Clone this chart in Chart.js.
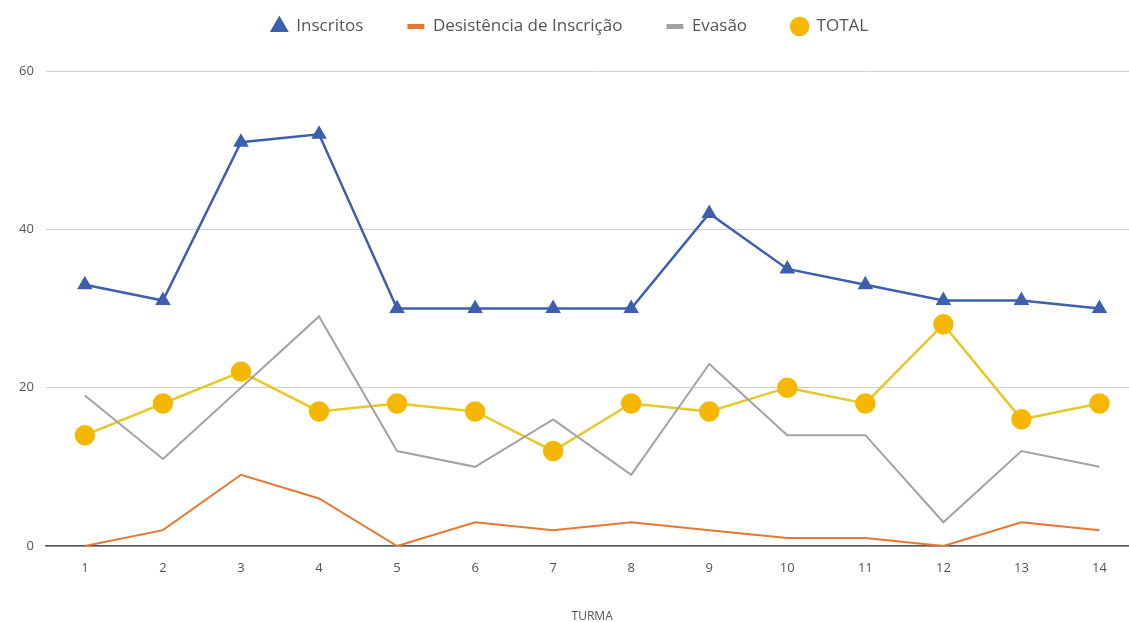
<!DOCTYPE html>
<html>
<head>
<meta charset="utf-8">
<script src="https://cdn.jsdelivr.net/npm/chart.js@4"></script>
<style>
  html, body { margin: 0; padding: 0; background: #fff; overflow: hidden; }
  #wrap { width: 1129px; height: 622px; overflow: hidden; }
</style>
</head>
<body>
<div id="wrap"><canvas id="turmaChart" width="1150" height="622"></canvas></div>
<script>
// --- DADOS ---
const turmas = ['1', '2', '3', '4', '5', '6', '7', '8', '9', '10', '11', '12', '13', '14'];
const inscritos = [33, 31, 51, 52, 30, 30, 30, 30, 42, 35, 33, 31, 31, 30];
const desistencia = [0, 2, 9, 6, 0, 3, 2, 3, 2, 1, 1, 0, 3, 2];
const evasao = [19, 11, 20, 29, 12, 10, 16, 9, 23, 14, 14, 3, 12, 10];
const total = [14, 18, 22, 17, 18, 17, 12, 18, 17, 20, 18, 28, 16, 18];
const yTicks = [0, 20, 40, 60];

// jarak ekstra di bawah legenda
const legendMargin = {
    id: 'legendMargin',
    beforeInit(chart) {
        const fitAsli = chart.legend.fit;
        chart.legend.fit = function () {
            fitAsli.bind(chart.legend)();
            this.height += 26;
        };
    }
};

// --- GRAFICO ---
const ctx = document.getElementById('turmaChart').getContext('2d');
const chart = new Chart(ctx, {
    type: 'line',
    data: {
        labels: turmas,
        datasets: [{
            label: 'Inscritos',
            data: inscritos,
            borderColor: '#3d5fae',
            backgroundColor: '#3d5fae',
            borderWidth: 2.5,
            pointStyle: 'triangle',
            pointRadius: 6.5,
            tension: 0
        }, {
            label: 'Desistência de Inscrição',
            data: desistencia,
            borderColor: '#e8782f',
            backgroundColor: '#e8782f',
            borderWidth: 2,
            pointRadius: 0,
            pointStyle: 'line',
            tension: 0
        }, {
            label: 'Evasão',
            data: evasao,
            borderColor: '#a3a3a3',
            backgroundColor: '#a3a3a3',
            borderWidth: 2,
            pointRadius: 0,
            pointStyle: 'line',
            tension: 0
        }, {
            label: 'TOTAL',
            data: total,
            borderColor: '#e6c82a',
            backgroundColor: '#f5b700',
            pointBorderColor: '#f5b700',
            borderWidth: 2.5,
            pointStyle: 'circle',
            pointRadius: 9,
            tension: 0
        }]
    },
    options: {
        responsive: false,
        animation: false,
        layout: { padding: { top: -26, left: -11, right: 0, bottom: -6 } },
        plugins: {
            legend: {
                position: 'top',
                labels: {
                    usePointStyle: true,
                    boxWidth: 17,
                    boxHeight: 12,
                    padding: 44,
                    color: '#555',
                    font: { family: 'Open Sans', size: 17 },
                    generateLabels: (c) => {
                        // garis legenda lebih tebal, seperti referensi
                        const items = Chart.defaults.plugins.legend.labels.generateLabels(c);
                        items.forEach(it => {
                            if (it.pointStyle === 'line') it.lineWidth = 5;
                        });
                        return items;
                    }
                }
            },
            tooltip: { enabled: false }
        },
        scales: {
            x: {
                offset: true,
                grid: { display: false, drawTicks: false },
                border: { display: true, color: '#555', width: 1.5 },
                ticks: { color: '#555', padding: 14, font: { family: 'Open Sans', size: 13 } },
                title: {
                    display: true,
                    text: 'TURMA',
                    color: '#555',
                    padding: { top: 20 },
                    font: { family: 'Open Sans', size: 12 }
                }
            },
            y: {
                min: 0,
                max: 60,
                afterBuildTicks: (axis) => { axis.ticks = yTicks.map(v => ({ value: v })); },
                afterFit: (axis) => { axis.width += 18; },
                grid: { color: '#d0d0d0', drawTicks: false },
                border: { display: false },
                ticks: { color: '#555', padding: 12, font: { family: 'Open Sans', size: 13 } }
            }
        }
    },
    plugins: [legendMargin]
});
</script>
</body>
</html>
